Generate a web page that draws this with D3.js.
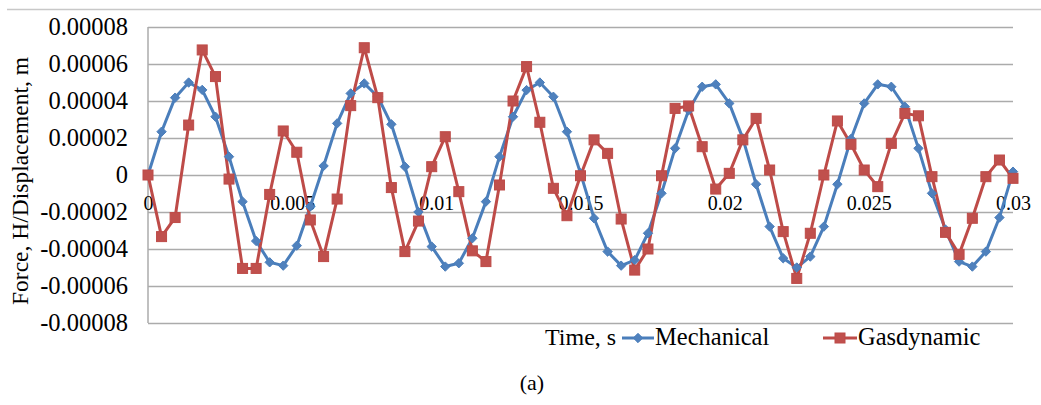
<!DOCTYPE html>
<html>
<head>
<meta charset="utf-8">
<script src="https://cdn.jsdelivr.net/npm/d3@7"></script>
<style>
  body { margin: 0; background: #fff; }
  svg text { font-family: "Liberation Serif", "Times New Roman", serif; fill: #000; }
</style>
</head>
<body>
<svg id="chart" width="1041" height="405"></svg>
<script>
// Time, s (65 samples)
var timeValues = [
  0, 0.00047, 0.00094, 0.00141, 0.00188, 0.00234, 0.00281, 0.00328,
  0.00375, 0.00422, 0.00469, 0.00516, 0.00563, 0.00609, 0.00656, 0.00703,
  0.0075, 0.00797, 0.00844, 0.00891, 0.00938, 0.00984, 0.01031, 0.01078,
  0.01125, 0.01172, 0.01219, 0.01266, 0.01313, 0.01359, 0.01406, 0.01453,
  0.015, 0.01547, 0.01594, 0.01641, 0.01688, 0.01734, 0.01781, 0.01828,
  0.01875, 0.01922, 0.01969, 0.02016, 0.02063, 0.02109, 0.02156, 0.02203,
  0.0225, 0.02297, 0.02344, 0.02391, 0.02438, 0.02484, 0.02531, 0.02578,
  0.02625, 0.02672, 0.02719, 0.02766, 0.02813, 0.02859, 0.02906, 0.02953,
  0.03
];

// Mechanical, x1e-5 m
var mechanical = [
  0, 2.34, 4.18, 5.0, 4.6, 3.15, 0.99, -1.44,
  -3.57, -4.72, -4.9, -3.82, -1.7, 0.49, 2.79, 4.41,
  4.95, 4.23, 2.74, 0.45, -2.0, -3.87, -4.95, -4.77,
  -3.42, -1.44, 0.99, 3.15, 4.59, 5.0, 4.23, 2.34,
  0.1, -2.34, -4.14, -4.9, -4.6, -3.15, -0.99, 1.44,
  3.5, 4.77, 4.9, 3.87, 1.98, -0.5, -2.79, -4.5,
  -5.0, -4.41, -2.79, -0.5, 1.95, 3.87, 4.9, 4.77,
  3.69, 1.44, -0.99, -2.95, -4.68, -4.95, -4.14, -2.3,
  0.18
];

// Gasdynamic, x1e-5 m
var gasdynamic = [
  0, -3.33, -2.3, 2.7, 6.76, 5.32, -0.22, -5.05,
  -5.05, -1.05, 2.38, 1.23, -2.43, -4.41, -1.3, 3.75,
  6.88, 4.18, -0.68, -4.14, -2.49, 0.45, 2.07, -0.9,
  -4.1, -4.68, -0.54, 4.0, 5.86, 2.85, -0.72, -2.2,
  -0.04, 1.9, 1.17, -2.38, -5.14, -4.0, -0.04, 3.6,
  3.73, 1.53, -0.76, 0.09, 1.9, 3.06, 0.27, -3.06,
  -5.59, -3.15, 0, 2.92, 1.66, 0.27, -0.63, 1.71,
  3.33, 3.2, -0.09, -3.1, -4.29, -2.34, -0.09, 0.81,
  -0.18
];

var xTicks = [0, 0.005, 0.01, 0.015, 0.02, 0.025, 0.03];
var xTickLabels = ['0', '0.005', '0.01', '0.015', '0.02', '0.025', '0.03'];
var yTicks = [8, 6, 4, 2, 0, -2, -4, -6, -8];
var yTickLabels = ['0.00008', '0.00006', '0.00004', '0.00002', '0',
  '-0.00002', '-0.00004', '-0.00006', '-0.00008'];

var seriesNames = ['Mechanical', 'Gasdynamic'];

var svg = d3.select('#chart');

//Plot box
var plot = { left: 148, right: 1013, top: 27, bottom: 323 };

var x = d3.scaleLinear().domain([0, 0.03]).range([plot.left, plot.right]);
var y = d3.scaleLinear().domain([-8, 8]).range([plot.bottom, plot.top]);

var gridColor = '#ababab';
var blueLine = '#4a7ebb';
var blueFill = '#4f81bd';
var redLine = '#be4b48';
var redFill = '#c0504d';

//Rule across the top of the figure
svg.append('line')
  .attr('x1', 7).attr('x2', 1041)
  .attr('y1', 9.5).attr('y2', 9.5)
  .attr('stroke', '#c8c8c8')
  .attr('stroke-width', 1.5);

//Horizontal gridlines (value axis)
var yAxis = d3.axisLeft(y)
  .tickValues(yTicks)
  .tickSize(-(plot.right - plot.left))
  .tickPadding(20)
  .tickFormat(function(d, i) { return yTickLabels[i]; });

var yAxisG = svg.append('g')
  .attr('transform', 'translate(' + plot.left + ',0)')
  .call(yAxis);

yAxisG.select('.domain')
  .attr('stroke', gridColor)
  .attr('stroke-width', 1.5)
  .attr('d', 'M0,' + plot.top + 'V' + plot.bottom);
yAxisG.selectAll('.tick line')
  .attr('stroke', gridColor)
  .attr('stroke-width', 1.5);
yAxisG.selectAll('.tick text')
  .attr('font-size', 24.5)
  .attr('font-family', '"Liberation Serif", serif')
  .attr('fill', '#000');

//Category axis sits on the zero line
var xAxis = d3.axisBottom(x)
  .tickValues(xTicks)
  .tickSize(0)
  .tickPadding(21)
  .tickFormat(function(d, i) { return xTickLabels[i]; });

var xAxisG = svg.append('g')
  .attr('transform', 'translate(0,' + y(0) + ')')
  .call(xAxis);
xAxisG.select('.domain').remove();
xAxisG.selectAll('.tick text')
  .attr('font-size', 20)
  .attr('font-family', '"Liberation Serif", serif')
  .attr('fill', '#000');

//Axis title
svg.append('text')
  .attr('transform', 'translate(28,' + 181 + ') rotate(-90)')
  .attr('text-anchor', 'middle')
  .attr('font-size', 23.5)
  .text('Force, H/Displacement, m');

//Series
var line = d3.line()
  .x(function(d) { return x(d.t); })
  .y(function(d) { return y(d.v); });

function _seriesData(values) {
  return values.map(function(v, i) {
    return { t: timeValues[i], v: v };
  });
}

var mechData = _seriesData(mechanical);
var gasData = _seriesData(gasdynamic);

svg.append('path')
  .datum(mechData)
  .attr('fill', 'none')
  .attr('stroke', blueLine)
  .attr('stroke-width', 3)
  .attr('stroke-linejoin', 'round')
  .attr('d', line);

svg.append('path')
  .datum(gasData)
  .attr('fill', 'none')
  .attr('stroke', redLine)
  .attr('stroke-width', 3)
  .attr('stroke-linejoin', 'round')
  .attr('d', line);

var diamond = d3.symbol().type(d3.symbolDiamond2).size(56);

svg.append('g').selectAll('path')
  .data(mechData)
  .enter().append('path')
  .attr('d', diamond)
  .attr('transform', function(d) { return 'translate(' + x(d.t) + ',' + y(d.v) + ')'; })
  .attr('fill', blueFill)
  .attr('stroke', blueLine)
  .attr('stroke-width', 1);

svg.append('g').selectAll('rect')
  .data(gasData)
  .enter().append('rect')
  .attr('x', function(d) { return x(d.t) - 5; })
  .attr('y', function(d) { return y(d.v) - 5; })
  .attr('width', 10)
  .attr('height', 10)
  .attr('fill', redFill)
  .attr('stroke', redLine)
  .attr('stroke-width', 1);

//Legend row (x axis title goes in front)
var legendY = 338;
svg.append('text')
  .attr('x', 545).attr('y', 345)
  .attr('font-size', 24)
  .text('Time, s');

var legend = [
  { name: seriesNames[0], x0: 622, x1: 654, stroke: blueLine, fill: blueFill, shape: 'diamond' },
  { name: seriesNames[1], x0: 823, x1: 857, stroke: redLine, fill: redFill, shape: 'square' }
];

legend.forEach(function(item) {
  svg.append('line')
    .attr('x1', item.x0).attr('x2', item.x1)
    .attr('y1', legendY).attr('y2', legendY)
    .attr('stroke', item.stroke)
    .attr('stroke-width', 3);
  var cx = (item.x0 + item.x1) / 2;
  if (item.shape === 'diamond') {
    svg.append('path')
      .attr('d', diamond)
      .attr('transform', 'translate(' + cx + ',' + legendY + ')')
      .attr('fill', item.fill)
      .attr('stroke', item.stroke);
  } else {
    svg.append('rect')
      .attr('x', cx - 5).attr('y', legendY - 5)
      .attr('width', 10).attr('height', 10)
      .attr('fill', item.fill)
      .attr('stroke', item.stroke);
  }
  svg.append('text')
    .attr('x', item.x1 + 1).attr('y', 345)
    .attr('font-size', 24.5)
    .text(item.name);
});

//Caption
svg.append('text')
  .attr('x', 532).attr('y', 390)
  .attr('text-anchor', 'middle')
  .attr('font-size', 22)
  .text('(a)');
</script>
</body>
</html>
